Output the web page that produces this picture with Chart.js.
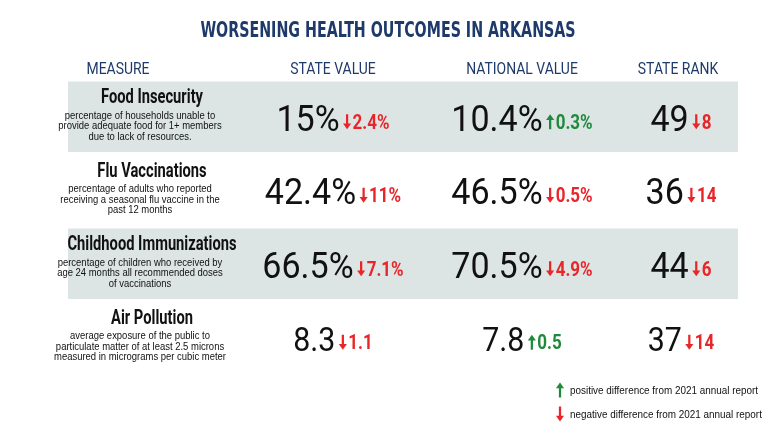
<!DOCTYPE html>
<html><head><meta charset="utf-8">
<script src="https://cdn.jsdelivr.net/npm/chart.js@4"></script>
<style>html,body{margin:0;padding:0;background:#fff}#w{width:768px;height:441px}</style>
</head><body><div id="w"><canvas id="c"></canvas></div>
<script>
const title = 'WORSENING HEALTH OUTCOMES IN ARKANSAS';
const headers = ['MEASURE','STATE VALUE','NATIONAL VALUE','STATE RANK'];
const measures = ['Food Insecurity','Flu Vaccinations','Childhood Immunizations','Air Pollution'];
const descriptions = [
  ['percentage of households unable to','provide adequate food for 1+ members','due to lack of resources.'],
  ['percentage of adults who reported','receiving a seasonal flu vaccine in the','past 12 months'],
  ['percentage of children who received by','age 24 months all recommended doses','of vaccinations'],
  ['average exposure of the public to','particulate matter of at least 2.5 microns','measured in micrograms per cubic meter']
];
const stateValues = ['15%','42.4%','66.5%','8.3'];
const stateChanges = ['2.4%','11%','7.1%','1.1'];
const stateDir = [-1,-1,-1,-1];
const nationalValues = ['10.4%','46.5%','70.5%','7.8'];
const nationalChanges = ['0.3%','0.5%','4.9%','0.5'];
const nationalDir = [1,-1,-1,1];
const stateRanks = ['49','36','44','37'];
const rankChanges = ['8','14','6','14'];
const rankDir = [-1,-1,-1,-1];
const rowShade = [1,0,1,0];
const legendText = ['positive difference from 2021 annual report','negative difference from 2021 annual report'];

const NAVY='#1e3a6b', RED='#e8262a', GREEN='#1f8a3c';

function ctext(ctx,t,x,y,sx,align){
  ctx.save();ctx.translate(x,y);ctx.scale(sx,1);ctx.textAlign=align||'center';
  ctx.fillText(t,0,0);ctx.restore();
}
function cwidth(ctx,t,sx){return ctx.measureText(t).width*sx;}

function arrow(ctx,x,yc,dir,h,col){
  ctx.save();ctx.strokeStyle=col;ctx.fillStyle=col;ctx.lineWidth=Math.max(2,h*0.15);
  const top=yc-h/2, bot=yc+h/2;
  ctx.beginPath();
  if(dir<0){ctx.moveTo(x,top);ctx.lineTo(x,bot-h*0.3);ctx.stroke();
    ctx.beginPath();ctx.moveTo(x-h*0.27,bot-h*0.38);ctx.lineTo(x+h*0.27,bot-h*0.38);ctx.lineTo(x,bot);ctx.closePath();ctx.fill();}
  else{ctx.moveTo(x,bot);ctx.lineTo(x,top+h*0.3);ctx.stroke();
    ctx.beginPath();ctx.moveTo(x-h*0.27,top+h*0.38);ctx.lineTo(x+h*0.27,top+h*0.38);ctx.lineTo(x,top);ctx.closePath();ctx.fill();}
  ctx.restore();
}
const BIGF='"Roboto",sans-serif', SX=0.92;
function valueGroup(ctx,cx,y,val,chg,dir,bigSize){
  ctx.font='400 '+bigSize+'px '+BIGF;
  const w1=cwidth(ctx,val,SX);
  ctx.font='bold 20px '+BIGF;
  const w2=cwidth(ctx,chg,0.85);
  const aw=11, gap=2;
  const total=w1+gap+aw+w2;
  let x=cx-total/2;
  ctx.textBaseline='alphabetic';
  ctx.fillStyle='#111';ctx.font='400 '+bigSize+'px '+BIGF;
  ctext(ctx,val,x,y+14,SX,'left');
  x+=w1+gap;
  const col=dir<0?RED:GREEN;
  arrow(ctx,x+aw/2,y+5,dir,15,col);
  x+=aw;
  ctx.fillStyle=col;ctx.font='bold 20px '+BIGF;
  ctext(ctx,chg,x,y+12,0.85,'left');
}

const textPlugin={id:'txt',afterDatasetsDraw(chart){
  const ctx=chart.ctx, ys=chart.scales.y;
  ctx.save();
  ctx.fillStyle=NAVY;ctx.textBaseline='middle';
  ctx.font='bold 22px "DejaVu Sans Condensed",sans-serif';
  ctext(ctx,title,388,31,0.72);
  ctx.font='17px "Roboto",sans-serif';
  const hx=[118,333,522,678];
  headers.forEach((h,i)=>ctext(ctx,h,hx[i],70,0.82));
  measures.forEach((m,i)=>{
    const y=ys.getPixelForValue(i);
    ctx.fillStyle='#111';ctx.textBaseline='middle';
    ctx.font='bold 21px "Roboto",sans-serif';
    ctext(ctx,m,152,y-19,0.7);
    ctx.font='11px "Liberation Sans","Arial",sans-serif';
    descriptions[i].forEach((d,k)=>ctext(ctx,d,140,y+k*10.5-1,0.86));
    const big= i===3?33:37;
    valueGroup(ctx,333,y,stateValues[i],stateChanges[i],stateDir[i],big);
    valueGroup(ctx,522,y,nationalValues[i],nationalChanges[i],nationalDir[i],big);
    valueGroup(ctx,681,y,stateRanks[i],rankChanges[i],rankDir[i],big);
  });
  arrow(ctx,560,390,1,15,GREEN);
  arrow(ctx,560,414,-1,15,RED);
  ctx.fillStyle='#111';ctx.textBaseline='middle';
  ctx.font='11px "Liberation Sans","Arial",sans-serif';
  ctext(ctx,legendText[0],570,391,0.9,'left');
  ctext(ctx,legendText[1],570,415,0.9,'left');
  ctx.restore();
}};

new Chart(document.getElementById('c'),{
  type:'bar',
  data:{labels:measures,datasets:[{data:measures.map(()=>1),
    backgroundColor:rowShade.map(s=>s?'#dde4e4':'rgba(0,0,0,0)'),
    barPercentage:0.96,categoryPercentage:1}]},
  options:{indexAxis:'y',responsive:true,maintainAspectRatio:false,animation:false,
    layout:{padding:{left:68,right:30,top:80,bottom:67}},
    plugins:{legend:{display:false},tooltip:{enabled:false}},
    scales:{x:{display:false,min:0,max:1},y:{display:false}}},
  plugins:[textPlugin]
});
</script></body></html>
